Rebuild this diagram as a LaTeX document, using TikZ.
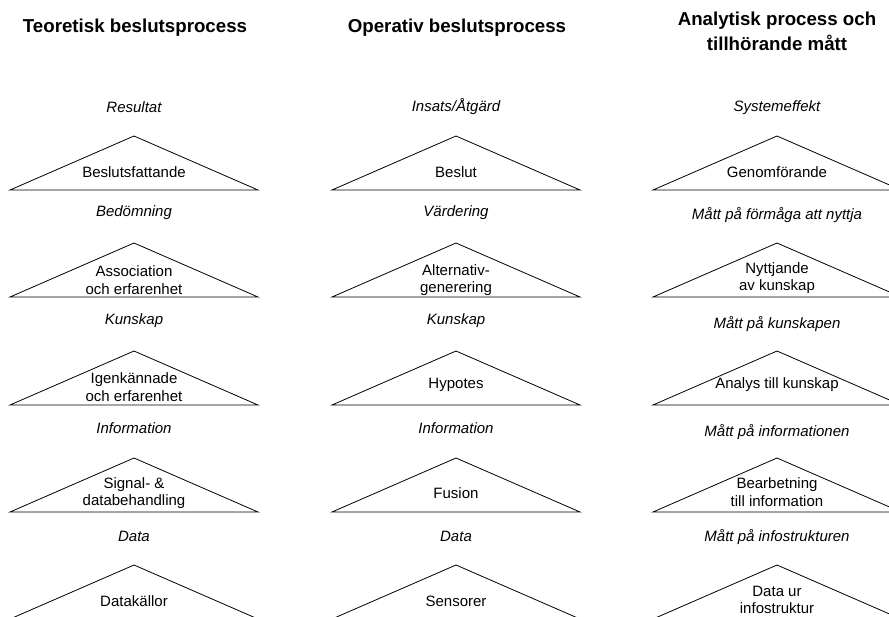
\documentclass[tikz,border=0pt]{standalone}
\usepackage{fontspec}
\setmainfont{Liberation Sans}
\begin{document}
\begin{tikzpicture}[x=1pt,y=-1pt,
  tri/.style={draw=black, line width=0.8pt, line join=miter},
  body/.style={font=\fontsize{15}{17.5}\selectfont, align=center, inner sep=0pt},
  lvl/.style={font=\fontsize{15}{17.5}\selectfont\itshape, inner sep=0pt},
  head/.style={font=\fontsize{18.7}{25}\selectfont\bfseries, align=center, inner sep=0pt}]
\useasboundingbox (0,0) rectangle (889,616);
\clip (0,0) rectangle (889,616);

% column headings
\node[head] (h1) at (135,28) {Teoretisk beslutsprocess};
\node[head] (h2) at (457,28) {Operativ beslutsprocess};
\node[head] (h3) at (777,31) {Analytisk process och\\tillhörande mått};

% triangles: columns at apex x = 134, 456, 777; rows at apex y
\foreach \cx/\c in {134/1,456/2,777/3}{
  \foreach \ay/\r in {136/1,243/2,351/3,458/4,565/5}{
    \draw[tri] (\cx-124,\ay+54) -- (\cx,\ay) -- (\cx+124,\ay+54) -- cycle;
  }
}

% level labels
\node[lvl] (l11) at (134,107) {Resultat};
\node[lvl] (l12) at (134,213) {Bedömning};
\node[lvl] (l13) at (134,321) {Kunskap};
\node[lvl] (l14) at (134,428) {Information};
\node[lvl] (l15) at (134,536) {Data};

\node[lvl] (l21) at (456,107) {Insats/Åtgärd};
\node[lvl] (l22) at (456,213) {Värdering};
\node[lvl] (l23) at (456,321) {Kunskap};
\node[lvl] (l24) at (456,428) {Information};
\node[lvl] (l25) at (456,536) {Data};

\node[lvl] (l31) at (777,108) {Systemeffekt};
\node[lvl] (l32) at (777,215) {Mått på förmåga att nyttja};
\node[lvl] (l33) at (777,324) {Mått på kunskapen};
\node[lvl] (l34) at (777,432) {Mått på informationen};
\node[lvl] (l35) at (777,537) {Mått på infostrukturen};

% process steps inside the triangles
\node[body] (s11) at (134,172) {Beslutsfattande};
\node[body] (s12) at (134,280) {Association\\och erfarenhet};
\node[body] (s13) at (134,387) {Igenkännade\\och erfarenhet};
\node[body] (s14) at (134,493) {Signal- \&\\databehandling};
\node[body] (s15) at (134,601) {Datakällor};

\node[body] (s21) at (456,172) {Beslut};
\node[body] (s22) at (456,280) {Alternativ-\\generering};
\node[body] (s23) at (456,385) {Hypotes};
\node[body] (s24) at (456,493) {Fusion};
\node[body] (s25) at (456,601) {Sensorer};

\node[body] (s31) at (777,172) {Genomförande};
\node[body] (s32) at (777,278) {Nyttjande\\av kunskap};
\node[body] (s33) at (777,385) {Analys till kunskap};
\node[body] (s34) at (777,492) {Bearbetning\\till information};
\node[body] (s35) at (777,600) {Data ur\\infostruktur};
\end{tikzpicture}
\end{document}
